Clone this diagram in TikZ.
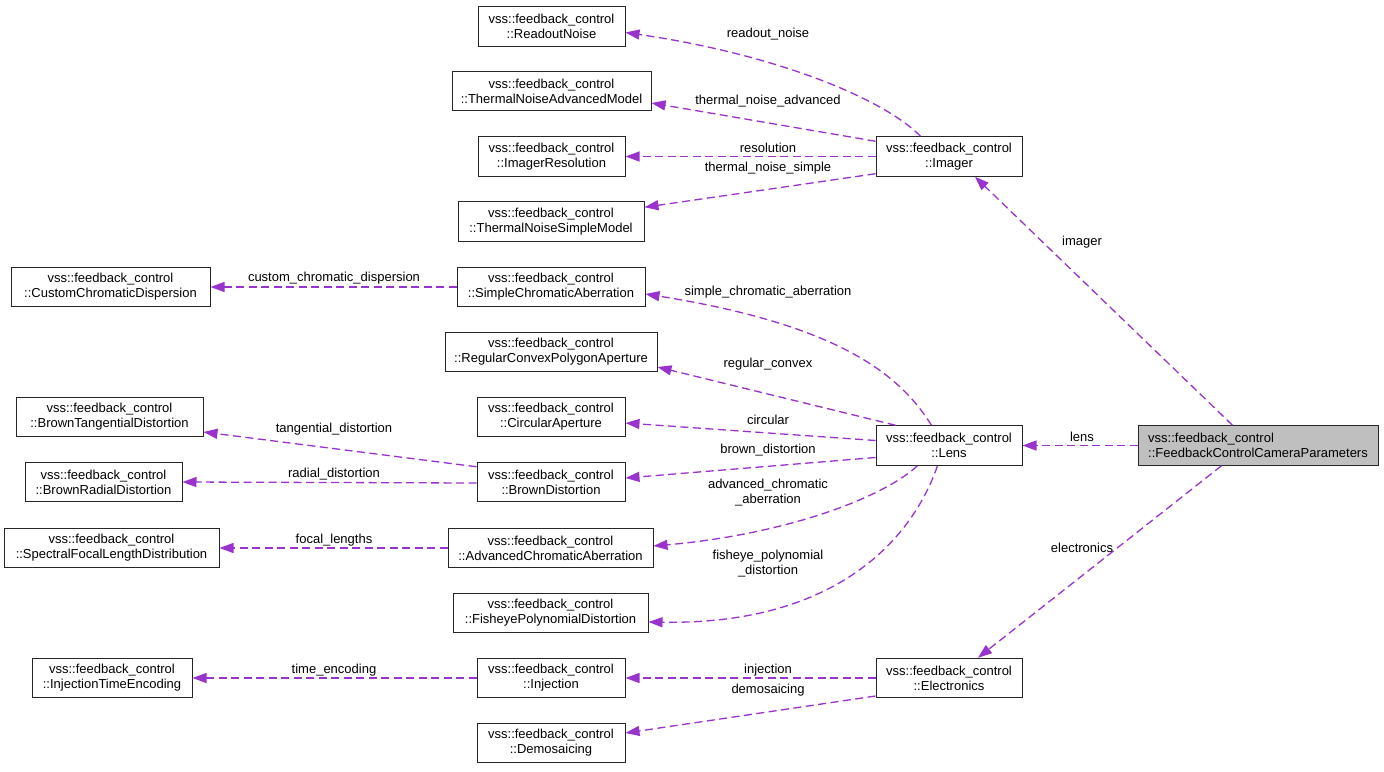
\documentclass[tikz,border=0pt]{standalone}
\usepackage{fontspec}
\setmainfont{Liberation Sans}
\usetikzlibrary{arrows.meta,calc}
\definecolor{edgec}{HTML}{9A32CD}
\definecolor{boxgray}{HTML}{BFBFBF}
\tikzset{
  cls/.style={draw=black!85, line width=1pt, rectangle, inner sep=0pt, align=center,
    font=\fontsize{13}{15}\selectfont, minimum height=39.5pt},
  rel/.style={draw=edgec, line width=1.3pt, dash pattern=on 8pt off 4.5pt,
    -{Triangle[length=14pt,width=10pt,fill=edgec]}},
  lbl/.style={font=\fontsize{13}{15}\selectfont, align=center, inner sep=0pt, text=black},
}
\begin{document}
\begin{tikzpicture}[x=1pt,y=-1pt]
\useasboundingbox[fill=white] (0,0) rectangle (1384,771);
% class boxes
\node[cls, minimum width=147pt] (readout) at (551.5,26.5) {vss::feedback\_control\\::ReadoutNoise};
\node[cls, minimum width=199pt] (tnadv) at (551.5,91) {vss::feedback\_control\\::ThermalNoiseAdvancedModel};
\node[cls, minimum width=147pt] (imgres) at (551.5,156.5) {vss::feedback\_control\\::ImagerResolution};
\node[cls, minimum width=186pt] (tnsimple) at (551,221.5) {vss::feedback\_control\\::ThermalNoiseSimpleModel};
\node[cls, minimum width=146pt] (imager) at (949,156.5) {vss::feedback\_control\\::Imager};
\node[cls, minimum width=199pt] (custom) at (110.5,287) {vss::feedback\_control\\::CustomChromaticDispersion};
\node[cls, minimum width=188pt] (simplechrom) at (551,287) {vss::feedback\_control\\::SimpleChromaticAberration};
\node[cls, minimum width=212pt] (regconv) at (551,352) {vss::feedback\_control\\::RegularConvexPolygonAperture};
\node[cls, minimum width=187pt] (browntang) at (109.5,417) {vss::feedback\_control\\::BrownTangentialDistortion};
\node[cls, minimum width=148pt] (circ) at (551,417) {vss::feedback\_control\\::CircularAperture};
\node[cls, minimum width=157pt] (brownrad) at (103.5,482) {vss::feedback\_control\\::BrownRadialDistortion};
\node[cls, minimum width=148pt] (browndist) at (551,482) {vss::feedback\_control\\::BrownDistortion};
\node[cls, minimum width=146pt] (lens) at (949,445.5) {vss::feedback\_control\\::Lens};
\node[cls, minimum width=240pt, fill=boxgray, align=left] (fccp) at (1258,445.5) {vss::feedback\_control\\::FeedbackControlCameraParameters};
\node[cls, minimum width=215pt] (spectral) at (111.5,548) {vss::feedback\_control\\::SpectralFocalLengthDistribution};
\node[cls, minimum width=205pt] (advchrom) at (550.5,548) {vss::feedback\_control\\::AdvancedChromaticAberration};
\node[cls, minimum width=195pt] (fisheye) at (550.5,613) {vss::feedback\_control\\::FisheyePolynomialDistortion};
\node[cls, minimum width=160pt] (injte) at (112,678) {vss::feedback\_control\\::InjectionTimeEncoding};
\node[cls, minimum width=148pt] (injection) at (551,678) {vss::feedback\_control\\::Injection};
\node[cls, minimum width=146pt] (electronics) at (949,678) {vss::feedback\_control\\::Electronics};
\node[cls, minimum width=148pt] (demosaic) at (551,743) {vss::feedback\_control\\::Demosaicing};
% connectors
\draw[rel] ($(imager.north west)+(45,0)$) .. controls (885,100) and (780,55) .. ($(readout.east)+(0,6)$);
\draw[rel] ($(imager.north west)+(0,5)$) -- ($(tnadv.east)+(0,12)$);
\draw[rel] (imager.west) -- (imgres.east);
\draw[rel] ($(imager.south west)+(0,-3)$) -- ($(tnsimple.north east)+(0,6)$);
\draw[rel] ($(fccp.north west)+(95,0)$) -- ($(imager.south)+(26,0)$);
\draw[rel] (fccp.west) -- (lens.east);
\draw[rel] ($(fccp.south west)+(84,0)$) -- ($(electronics.north)+(29,0)$);
\draw[rel] (simplechrom.west) -- (custom.east);
\draw[rel] ($(lens.north west)+(56,0)$) .. controls (900,375) and (840,325) .. ($(simplechrom.east)+(0,7)$);
\draw[rel] ($(lens.north west)+(20,0)$) -- ($(regconv.east)+(0,15)$);
\draw[rel] ($(lens.west)+(0,-5)$) -- ($(circ.east)+(0,6)$);
\draw[rel] ($(lens.west)+(0,12)$) -- ($(browndist.east)+(0,-4)$);
\draw[rel] ($(browndist.north west)+(0,5)$) -- ($(browntang.east)+(0,15)$);
\draw[rel] ($(browndist.west)+(0,1)$) -- (brownrad.east);
\draw[rel] ($(lens.south west)+(42,0)$) .. controls (880,500) and (780,535) .. ($(advchrom.east)+(0,-2)$);
\draw[rel] (advchrom.west) -- (spectral.east);
\draw[rel] ($(lens.south west)+(62,0)$) .. controls (910,545) and (830,625) .. ($(fisheye.east)+(0,9)$);
\draw[rel] (electronics.west) -- (injection.east);
\draw[rel] (injection.west) -- (injte.east);
\draw[rel] ($(electronics.west)+(0,18)$) -- ($(demosaic.east)+(0,-10)$);
% labels
\node[lbl] (l1) at (768,34) {readout\_noise};
\node[lbl] (l2) at (768,101) {thermal\_noise\_advanced};
\node[lbl] (l3) at (768,148) {resolution};
\node[lbl] (l4) at (768,168) {thermal\_noise\_simple};
\node[lbl] (l5) at (1082,242) {imager};
\node[lbl] (l6) at (1082,437) {lens};
\node[lbl] (l7) at (1082,548) {electronics};
\node[lbl] (l8) at (334,278) {custom\_chromatic\_dispersion};
\node[lbl] (l9) at (768,292) {simple\_chromatic\_aberration};
\node[lbl] (l10) at (768,364) {regular\_convex};
\node[lbl] (l11) at (768,420) {circular};
\node[lbl] (l12) at (768,450) {brown\_distortion};
\node[lbl] (l13) at (334,429) {tangential\_distortion};
\node[lbl] (l14) at (334,474) {radial\_distortion};
\node[lbl] (l15) at (768,493) {advanced\_chromatic\\\_aberration};
\node[lbl] (l16) at (334,540) {focal\_lengths};
\node[lbl] (l17) at (768,564) {fisheye\_polynomial\\\_distortion};
\node[lbl] (l18) at (768,670) {injection};
\node[lbl] (l19) at (334,670) {time\_encoding};
\node[lbl] (l20) at (768,690) {demosaicing};
\end{tikzpicture}
\end{document}
